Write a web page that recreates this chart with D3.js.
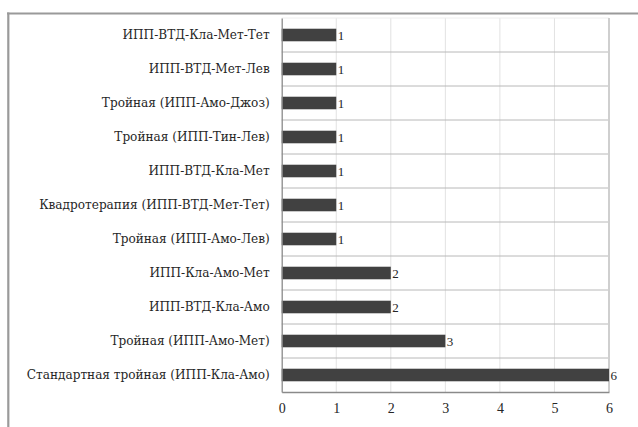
<!DOCTYPE html>
<html>
<head>
<meta charset="utf-8">
<script src="https://cdn.jsdelivr.net/npm/d3@7"></script>
<style>
  html, body { margin: 0; padding: 0; background: #fff; }
  svg { display: block; }
</style>
</head>
<body>
<svg id="chart" width="638" height="427"></svg>
<script>
// Treatment schemes, listed top to bottom
const categories = [
  "ИПП-ВТД-Кла-Мет-Тет",
  "ИПП-ВТД-Мет-Лев",
  "Тройная (ИПП-Амо-Джоз)",
  "Тройная (ИПП-Тин-Лев)",
  "ИПП-ВТД-Кла-Мет",
  "Квадротерапия (ИПП-ВТД-Мет-Тет)",
  "Тройная (ИПП-Амо-Лев)",
  "ИПП-Кла-Амо-Мет",
  "ИПП-ВТД-Кла-Амо",
  "Тройная (ИПП-Амо-Мет)",
  "Стандартная тройная (ИПП-Кла-Амо)"
];
// Number of patients per scheme
const counts = [1, 1, 1, 1, 1, 1, 1, 2, 2, 3, 6];
// X axis ticks
const xTicks = [0, 1, 2, 3, 4, 5, 6];

// Serif faces: one for Cyrillic labels, one for the digits
const LABEL_FONT = "'DejaVu Serif', serif";
const NUM_FONT = "'Liberation Serif', 'Times New Roman', serif";
const svg = d3.select("#chart");

// Outer frame (top and left edges)
svg.append("line").attr("x1", 7).attr("x2", 638).attr("y1", 13.5).attr("y2", 13.5)
  .attr("stroke", "#9a9a9a").attr("stroke-width", 2.2);
svg.append("line").attr("x1", 8.3).attr("x2", 8.3).attr("y1", 12.5).attr("y2", 427)
  .attr("stroke", "#9a9a9a").attr("stroke-width", 2.2);

const plot = { left: 281.7, right: 609, top: 18, bottom: 392 };

const x = d3.scaleLinear().domain([0, 6]).range([plot.left, plot.right]);
const y = d3.scaleBand().domain(categories).range([plot.top, plot.bottom])
  .paddingInner(0.63).paddingOuter(0.315);

// Vertical gridlines
svg.append("g").selectAll("line").data(xTicks.slice(1, -1)).join("line")
  .attr("x1", d => x(d)).attr("x2", d => x(d))
  .attr("y1", plot.top).attr("y2", plot.bottom)
  .attr("stroke", "#e2e2e2").attr("stroke-width", 1);

// Horizontal lines between categories
const step = y.step();
const bounds = d3.range(categories.length).map(i => plot.top + i * step);
svg.append("g").selectAll("line").data(bounds).join("line")
  .attr("x1", plot.left).attr("x2", plot.right)
  .attr("y1", d => d).attr("y2", d => d)
  .attr("stroke", (d, i) => i === 0 ? "#eeeeee" : "#b8b8b8").attr("stroke-width", 1);

// Right edge of the plot
svg.append("line").attr("x1", plot.right).attr("x2", plot.right)
  .attr("y1", plot.top).attr("y2", plot.bottom)
  .attr("stroke", "#cfcfcf").attr("stroke-width", 2);

// Bars
svg.append("g").selectAll("rect").data(categories).join("rect")
  .attr("x", x(0))
  .attr("y", d => y(d))
  .attr("width", (d, i) => x(counts[i]) - x(0))
  .attr("height", y.bandwidth())
  .attr("fill", "#414141");

// Value labels
svg.append("g").selectAll("text").data(categories).join("text")
  .attr("x", (d, i) => x(counts[i]) + 1.5)
  .attr("y", d => y(d) + y.bandwidth() / 2)
  .attr("dy", "0.35em")
  .style("font-family", NUM_FONT)
  .style("font-size", "13px")
  .style("fill", "#262626")
  .text((d, i) => counts[i]);

// Axes
const xAxis = d3.axisBottom(x).tickValues(xTicks).tickSize(0).tickPadding(11)
  .tickFormat(d3.format("d"));
const gx = svg.append("g").attr("transform", `translate(0,${plot.bottom})`).call(xAxis);
gx.select(".domain").attr("stroke", "#8a8a8a").attr("stroke-width", 1.3);
gx.selectAll("text").style("font-family", NUM_FONT).style("font-size", "14px").style("fill", "#262626");

const yAxis = d3.axisLeft(y).tickSize(0).tickPadding(12);
const gy = svg.append("g").attr("transform", `translate(${plot.left},0)`).call(yAxis);
gy.select(".domain").attr("stroke", "#8a8a8a").attr("stroke-width", 1.3);
gy.selectAll("text").style("font-family", LABEL_FONT).style("font-size", "12.1px").style("fill", "#262626");
</script>
</body>
</html>
